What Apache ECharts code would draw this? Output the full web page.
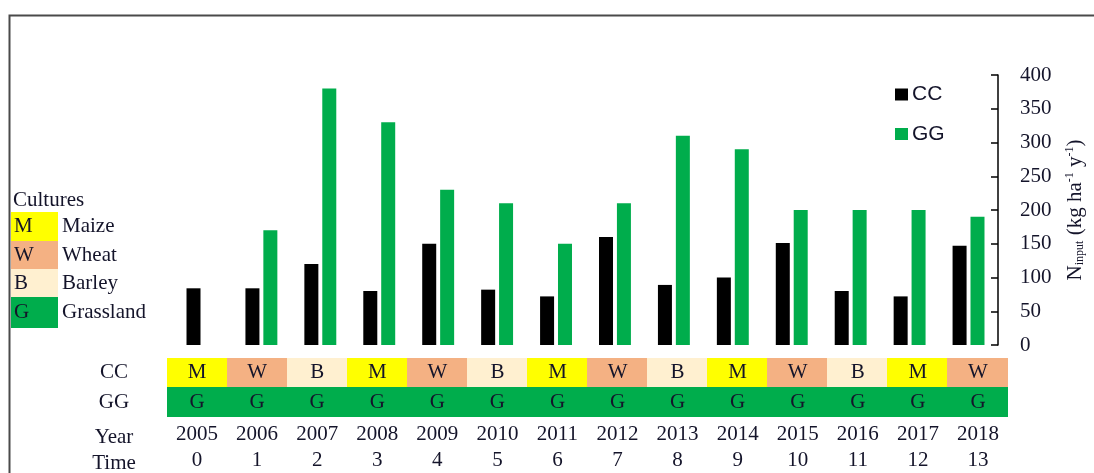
<!DOCTYPE html>
<html>
<head>
<meta charset="utf-8">
<script src="https://cdn.jsdelivr.net/npm/echarts@6/dist/echarts.min.js"></script>
<style>
html,body{margin:0;padding:0;background:#fff;}
#chart{width:1094px;height:473px;}
</style>
</head>
<body>
<div id="chart"></div>
<script>
// ---- data ----
const years = ['2005','2006','2007','2008','2009','2010','2011','2012','2013','2014','2015','2016','2017','2018'];
const times = ['0','1','2','3','4','5','6','7','8','9','10','11','12','13'];
const ccValues = [84, 84, 120, 80, 150, 82, 72, 160, 89, 100, 151, 80, 72, 147];
const ggValues = [0, 170, 380, 330, 230, 210, 150, 210, 310, 290, 200, 200, 200, 190];
const ccCrops = ['M','W','B','M','W','B','M','W','B','M','W','B','M','W'];
const ggCrops = ['G','G','G','G','G','G','G','G','G','G','G','G','G','G'];
const tableRows = ['GG','CC'];
const yTicks = [0, 50, 100, 150, 200, 250, 300, 350, 400];
const cultureCodes = ['M','W','B','G'];
const cultureNames = ['Maize','Wheat','Barley','Grassland'];

// ---- styles ----
const cropColors = {M:'#FFFF00', W:'#F4B183', B:'#FFF0D0', G:'#00AD4C'};
const serif = '"Liberation Serif", "Times New Roman", serif';
const sans = '"Liberation Sans", Arial, sans-serif';
const textColor = '#14142a';

const chart = echarts.init(document.getElementById('chart'));

const tableData = [];
ccCrops.forEach((c, i) => tableData.push([i, 1, c]));
ggCrops.forEach((c, i) => tableData.push([i, 0, c]));

const legendGraphics = [];
legendGraphics.push({type:'text', x:13, y:200, style:{text:'Cultures', font:'21px ' + serif, fill:textColor, verticalAlign:'middle'}});
const rowTops = [212, 241, 269, 297];
const rowHeights = [29, 28, 28, 31];
cultureCodes.forEach((c, i) => {
  legendGraphics.push({type:'rect', shape:{x:11, y:rowTops[i], width:47, height:rowHeights[i]}, style:{fill:cropColors[c]}});
  legendGraphics.push({type:'text', x:14, y:rowTops[i] + rowHeights[i]/2, style:{text:c, font:'21px ' + serif, fill:textColor, verticalAlign:'middle'}});
  legendGraphics.push({type:'text', x:62, y:rowTops[i] + rowHeights[i]/2, style:{text:cultureNames[i], font:'21px ' + serif, fill:textColor, verticalAlign:'middle'}});
});

const option = {
  animation: false,
  backgroundColor: '#fff',
  legend: {
    data: ['CC', 'GG'],
    orient: 'vertical',
    left: 895,
    top: 84,
    padding: 0,
    itemWidth: 13,
    itemHeight: 12,
    itemGap: 18.5,
    icon: 'rect',
    textStyle: {fontFamily: sans, fontSize: 21, color: textColor, lineHeight: 21, padding: [0,0,0,-1]}
  },
  grid: [
    {left: 173, right: 91, top: 75, bottom: 128},
    {left: 167, right: 86, top: 358, height: 63}
  ],
  xAxis: [
    {type:'category', gridIndex:0, data: years, axisLine:{show:false}, axisTick:{show:false}, axisLabel:{show:false}},
    {type:'category', gridIndex:1, data: years, position:'bottom',
     axisLine:{show:false}, axisTick:{show:false},
     axisLabel:{margin:4, fontFamily:serif, fontSize:21, color:textColor, lineHeight:26,
       formatter:(v, i) => v + '\n' + times[i]}}
  ],
  yAxis: [
    {type:'value', gridIndex:0, position:'right', min:0, max:400, interval:50,
     splitLine:{show:false},
     axisLine:{show:true, lineStyle:{color:'#000', width:1.5}},
     axisTick:{show:true, inside:true, length:7, lineStyle:{color:'#000', width:1.5}},
     axisLabel:{margin:22, fontFamily:serif, fontSize:21, color:textColor,
       formatter:(v) => yTicks.includes(v) ? String(v) : ''},
     name:'{n|N}{sub|input}{n| (kg ha}{sup|-1}{n| y}{sup|-1}{n|)}',
     nameLocation:'middle', nameRotate:90, nameGap:66,
     nameTextStyle:{fontFamily:serif, color:textColor,
       rich:{
         n:{fontFamily:serif, fontSize:21, color:textColor, verticalAlign:'middle'},
         sub:{fontFamily:serif, fontSize:12, color:textColor, verticalAlign:'bottom', padding:[10,0,0,0]},
         sup:{fontFamily:serif, fontSize:12, color:textColor, verticalAlign:'top', padding:[0,0,10,0]}
       }}
    },
    {type:'category', gridIndex:1, data: tableRows,
     axisLine:{show:false}, axisTick:{show:false}, splitLine:{show:false},
     axisLabel:{margin:53, align:'center', fontFamily:serif, fontSize:21, color:textColor}}
  ],
  series: [
    {name:'CC', type:'bar', xAxisIndex:0, yAxisIndex:0, data: ccValues, barWidth:14, barGap:'28%', itemStyle:{color:'#000'}},
    {name:'GG', type:'bar', xAxisIndex:0, yAxisIndex:0, data: ggValues, barWidth:14, barGap:'28%', itemStyle:{color:'#00AD4C'}},
    {name:'table', type:'custom', xAxisIndex:1, yAxisIndex:1, data: tableData, silent:true,
     renderItem: function(params, api) {
       const d = tableData[params.dataIndex];
       const c = api.coord([d[0], d[1]]);
       const s = api.size([1, 1]);
       const x0 = Math.floor(c[0]-s[0]/2), x1 = Math.ceil(c[0]+s[0]/2);
       const y0 = Math.floor(c[1]-s[1]/2), y1 = Math.ceil(c[1]+s[1]/2);
       return {
         type:'group',
         children:[
           {type:'rect', shape:{x:x0, y:y0, width:x1-x0, height:y1-y0}, style:{fill:cropColors[d[2]]}},
           {type:'text', x:c[0], y:c[1], style:{text:d[2], font:'21px ' + serif, fill:textColor, align:'center', verticalAlign:'middle'}}
         ]
       };
     }}
  ],
  graphic: [
    {type:'polyline', shape:{points:[[9.5,473],[9.5,15.5],[1094,15.5]]}, style:{stroke:'#4a4a4a', lineWidth:2, fill:null}},
    {type:'text', x:114, y:437, style:{text:'Year', font:'21px ' + serif, fill:textColor, align:'center', verticalAlign:'middle'}},
    {type:'text', x:114, y:463, style:{text:'Time', font:'21px ' + serif, fill:textColor, align:'center', verticalAlign:'middle'}}
  ].concat(legendGraphics)
};
chart.setOption(option);
</script>
</body>
</html>
